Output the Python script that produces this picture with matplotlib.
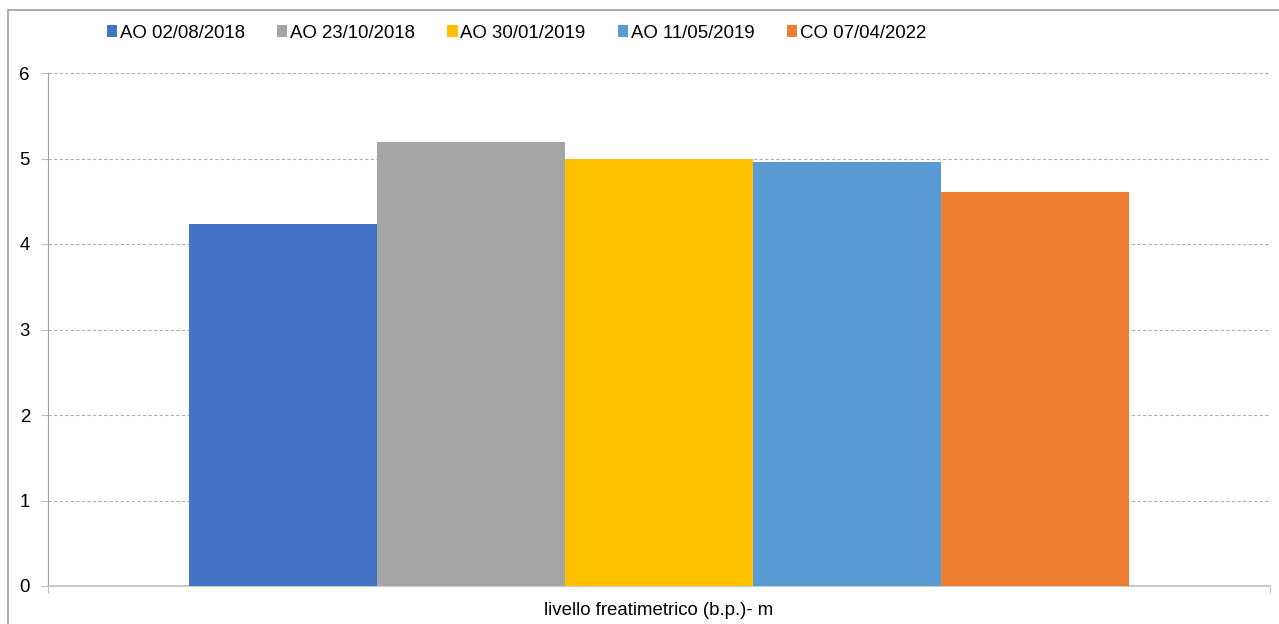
import matplotlib.pyplot as plt
from matplotlib.patches import Rectangle

plt.rcParams['font.family'] = ['Liberation Sans', 'DejaVu Sans']

# dati
categoria = ["livello freatimetrico (b.p.)- m"]
serie = ["AO 02/08/2018", "AO 23/10/2018", "AO 30/01/2019", "AO 11/05/2019", "CO 07/04/2022"]
valori = [4.23, 5.19, 5.00, 4.96, 4.61]
colori = ["#4472C4", "#A5A5A5", "#FFC000", "#5B9BD5", "#ED7D31"]
yticks = [0, 1, 2, 3, 4, 5, 6]

fs = 13.4
fig = plt.figure(figsize=(12.79, 6.24), dpi=100)
ax = fig.add_axes([48 / 1279, 38 / 624, 1222 / 1279, 513 / 624])

# larghezza gruppo come in Excel (gap 30%)
gruppo = 1 / 1.3
w = gruppo / len(serie)
for i, (nome, v, c) in enumerate(zip(serie, valori, colori)):
    x = -gruppo / 2 + w * (i + 0.5)
    ax.bar(x, v, width=w, color=c, label=nome, zorder=3)

ax.set_xlim(-0.5, 0.5)
ax.set_ylim(0, 6)
ax.set_yticks(yticks)
ax.set_yticklabels([str(t) for t in yticks], fontsize=fs)
ax.set_xticks([-0.5, 0.5])
ax.set_xticklabels(["", ""])
ax.tick_params(axis='x', length=5, color='#BFBFBF', direction='out')
ax.tick_params(axis='y', length=5, color='#BFBFBF', direction='out', pad=8)
ax.text(0, -0.032, categoria[0], transform=ax.get_xaxis_transform(),
        ha='center', va='top', fontsize=fs)

ax.grid(axis='y', linestyle=(0, (3, 2)), color='#B0B0B0', linewidth=0.8, zorder=0)
for s in ['top', 'right']:
    ax.spines[s].set_visible(False)
ax.spines['left'].set_color('#A0A0A0')
ax.spines['bottom'].set_color('#BFBFBF')
ax.spines['bottom'].set_linewidth(1.2)

fig.legend(loc='center left', bbox_to_anchor=(107 / 1279, 1 - 33 / 624), ncol=5,
           frameon=False, fontsize=fs, handlelength=0.55, handleheight=0.55,
           handletextpad=0.15, columnspacing=1.73, borderaxespad=0, borderpad=0)

# cornice del grafico
fig.patches.append(Rectangle((8 / 1279, -0.1), 1.5, 1.1 - 10 / 624,
                             transform=fig.transFigure, fill=False,
                             edgecolor='#A0A0A0', linewidth=1.2))

fig.savefig("out.png", dpi=100)
